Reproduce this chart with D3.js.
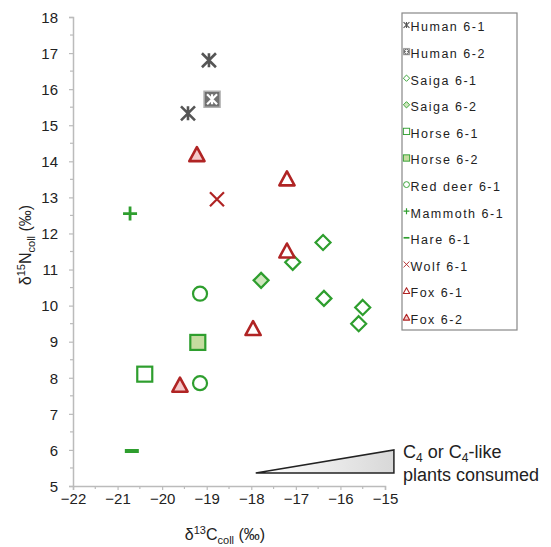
<!DOCTYPE html>
<html>
<head>
<meta charset="utf-8">
<script src="https://cdn.jsdelivr.net/npm/d3@7"></script>
<style>
  body { margin: 0; background: #fff; }
  text { font-family: "Liberation Sans", Arial, sans-serif; }
</style>
</head>
<body>
<svg id="chart" width="551" height="547"></svg>
<script>
// values (d13C, d15N)
let human61 = [[-19.42, 15.33], [-18.95, 16.8]];
let human62 = [[-18.88, 15.72]];
let saiga61 = [[-16.39, 11.75], [-17.07, 11.2], [-16.37, 10.2], [-15.5, 9.95], [-15.59, 9.5]];
let saiga62 = [[-17.78, 10.7]];
let horse61 = [[-20.39, 8.1]];
let horse62 = [[-19.2, 8.98]];
let redDeer61 = [[-19.15, 10.33], [-19.15, 7.85]];
let mammoth61 = [[-20.72, 12.55]];
let hare61 = [[-20.68, 5.97]];
let wolf61 = [[-18.77, 12.95]];
let fox61 = [[-17.2, 13.5], [-17.2, 11.5], [-17.96, 9.35]];
let fox62 = [[-19.22, 14.17], [-19.6, 7.78]];

let legendNames = ["Human 6-1", "Human 6-2", "Saiga 6-1", "Saiga 6-2", "Horse 6-1", "Horse 6-2",
                   "Red deer 6-1", "Mammoth 6-1", "Hare 6-1", "Wolf 6-1", "Fox 6-1", "Fox 6-2"];
let xTicks = [-22, -21, -20, -19, -18, -17, -16, -15];
let yTicks = [5, 6, 7, 8, 9, 10, 11, 12, 13, 14, 15, 16, 17, 18];

// C4 wedge corners: [d13C, d15N]
let wedge = [[-17.9, 5.36], [-14.8, 6.0], [-14.8, 5.36]];

let green = "#2e9e2e", red = "#b02424", gray = "#555";

let series = [
  {name: legendNames[0], data: human61, type: "asterisk"},
  {name: legendNames[1], data: human62, type: "boxstar"},
  {name: legendNames[2], data: saiga61, type: "diamond", fill: "#fff"},
  {name: legendNames[3], data: saiga62, type: "diamond", fill: "#cfe6bd"},
  {name: legendNames[4], data: horse61, type: "square", fill: "#fff"},
  {name: legendNames[5], data: horse62, type: "square", fill: "#c5dca0"},
  {name: legendNames[6], data: redDeer61, type: "circle"},
  {name: legendNames[7], data: mammoth61, type: "plus"},
  {name: legendNames[8], data: hare61, type: "dash"},
  {name: legendNames[9], data: wolf61, type: "cross"},
  {name: legendNames[10], data: fox61, type: "triangle", fill: "#fff"},
  {name: legendNames[11], data: fox62, type: "triangle", fill: "#f4c9c9"}
];

let svg = d3.select("#chart");

let x = d3.scaleLinear().domain([-22, -15]).range([73, 385]);
let y = d3.scaleLinear().domain([5, 18]).range([486, 17]);

// axes
let xAxis = svg.append("g").attr("transform", "translate(0,486)")
  .call(d3.axisBottom(x).tickValues(xTicks).tickFormat(d3.format("d")).tickSize(4).tickPadding(3));
let yAxis = svg.append("g").attr("transform", "translate(73,0)")
  .call(d3.axisLeft(y).tickValues(yTicks).tickFormat(d3.format("d")).tickSize(4).tickPadding(11));

[xAxis, yAxis].forEach(function(g){
  g.select(".domain").attr("stroke", "#bbb").attr("stroke-width", 1.5);
  g.selectAll(".tick line").attr("stroke", "#bbb").attr("stroke-width", 1.2);
  g.selectAll(".tick text").attr("fill", "#222").style("font-size", "15px");
});
yAxis.selectAll(".tick text").attr("dy", "0.35em");

// half-unit minor ticks
let xMinor = d3.range(-21.5, -15, 1);
let yMinor = d3.range(5.5, 18, 1);
svg.append("g").selectAll("line").data(xMinor).enter().append("line")
  .attr("x1", d => x(d)).attr("x2", d => x(d)).attr("y1", 486).attr("y2", 489)
  .attr("stroke", "#bbb").attr("stroke-width", 1.2);
svg.append("g").selectAll("line").data(yMinor).enter().append("line")
  .attr("y1", d => y(d)).attr("y2", d => y(d)).attr("x1", 70).attr("x2", 73)
  .attr("stroke", "#bbb").attr("stroke-width", 1.2);

// axis titles
let xt = svg.append("text").attr("x", 225).attr("y", 540).attr("text-anchor", "middle")
  .style("font-size", "16px").attr("fill", "#222");
xt.append("tspan").text("δ");
xt.append("tspan").attr("dy", -6).style("font-size", "11px").text("13");
xt.append("tspan").attr("dy", 6).text("C");
xt.append("tspan").attr("dy", 4).style("font-size", "11px").text("coll");
xt.append("tspan").attr("dy", -4).text(" (‰)");

let yt = svg.append("text").attr("transform", "translate(31,245) rotate(-90)").attr("text-anchor", "middle")
  .style("font-size", "16px").attr("fill", "#222");
yt.append("tspan").text("δ");
yt.append("tspan").attr("dy", -6).style("font-size", "11px").text("15");
yt.append("tspan").attr("dy", 6).text("N");
yt.append("tspan").attr("dy", 4).style("font-size", "11px").text("coll");
yt.append("tspan").attr("dy", -4).text(" (‰)");

// marker drawing
function drawMarker(g, s, cx, cy, k) {
  let m = g.append("g").attr("transform", "translate(" + cx + "," + cy + ")");
  let r = 7 * k;
  if (s.type == "asterisk") {
    m.append("path").attr("d", "M" + (-r) + "," + (-r) + "L" + r + "," + r + "M" + (-r) + "," + r + "L" + r + "," + (-r) +
        "M0," + (-r) + "L0," + r)
      .attr("stroke", gray).attr("stroke-width", 2.6 * k).attr("fill", "none");
  } else if (s.type == "boxstar") {
    let b = 8 * k, a = 5 * k;
    m.append("rect").attr("x", -b).attr("y", -b).attr("width", 2 * b).attr("height", 2 * b)
      .attr("fill", "#707070").attr("stroke", "#b0b0b0").attr("stroke-width", 1.5 * k);
    m.append("path").attr("d", "M" + (-a) + "," + (-a) + "L" + a + "," + a + "M" + (-a) + "," + a + "L" + a + "," + (-a) +
        "M0," + (-a) + "L0," + a)
      .attr("stroke", "#fff").attr("stroke-width", 2.2 * k).attr("fill", "none");
  } else if (s.type == "diamond") {
    let d = 7.5 * k;
    m.append("path").attr("d", "M0," + (-d) + "L" + d + ",0L0," + d + "L" + (-d) + ",0Z")
      .attr("fill", s.fill).attr("stroke", green).attr("stroke-width", 2.2 * k);
  } else if (s.type == "square") {
    let q = 7.5 * k;
    m.append("rect").attr("x", -q).attr("y", -q).attr("width", 2 * q).attr("height", 2 * q)
      .attr("fill", s.fill).attr("stroke", green).attr("stroke-width", 2.2 * k);
  } else if (s.type == "circle") {
    m.append("circle").attr("r", 7 * k).attr("fill", "#fff").attr("stroke", green).attr("stroke-width", 2.2 * k);
  } else if (s.type == "plus") {
    m.append("path").attr("d", "M" + (-r) + ",0L" + r + ",0M0," + (-r) + "L0," + r)
      .attr("stroke", green).attr("stroke-width", 2.8 * k);
  } else if (s.type == "dash") {
    m.append("path").attr("d", "M" + (-r) + ",0L" + r + ",0")
      .attr("stroke", green).attr("stroke-width", 4 * k);
  } else if (s.type == "cross") {
    m.append("path").attr("d", "M" + (-r) + "," + (-r) + "L" + r + "," + r + "M" + (-r) + "," + r + "L" + r + "," + (-r))
      .attr("stroke", red).attr("stroke-width", 2.2 * k);
  } else if (s.type == "triangle") {
    let t = 8 * k;
    m.append("path").attr("d", "M0," + (-t) + "L" + (t * 0.95) + "," + (t * 0.75) + "L" + (-t * 0.95) + "," + (t * 0.75) + "Z")
      .attr("fill", s.fill).attr("stroke", red).attr("stroke-width", 2.6 * k).attr("stroke-linejoin", "round");
  }
}

// points
let pts = svg.append("g");
series.forEach(function(s){
  s.data.forEach(function(d){ drawMarker(pts, s, x(d[0]), y(d[1]), 1); });
});

// C4 wedge
let grad = svg.append("defs").append("linearGradient").attr("id", "wedgeGrad")
  .attr("x1", "0%").attr("x2", "100%").attr("y1", "0%").attr("y2", "0%");
grad.append("stop").attr("offset", "0%").attr("stop-color", "#ffffff");
grad.append("stop").attr("offset", "100%").attr("stop-color", "#d8d8d8");
svg.append("path")
  .attr("d", d3.line().x(d => x(d[0])).y(d => y(d[1]))(wedge) + "Z")
  .attr("fill", "url(#wedgeGrad)").attr("stroke", "#222").attr("stroke-width", 1.5);
let c4a = svg.append("text").attr("x", 403).attr("y", 458).style("font-size", "18px").attr("fill", "#222");
c4a.append("tspan").text("C");
c4a.append("tspan").attr("dy", 4).style("font-size", "12px").text("4");
c4a.append("tspan").attr("dy", -4).text(" or C");
c4a.append("tspan").attr("dy", 4).style("font-size", "12px").text("4");
c4a.append("tspan").attr("dy", -4).text("-like");
svg.append("text").attr("x", 403).attr("y", 481).style("font-size", "18px").attr("fill", "#222")
  .text("plants consumed");

// legend
let lg = svg.append("g");
lg.append("rect").attr("x", 402).attr("y", 13).attr("width", 115).attr("height", 317)
  .attr("fill", "#fff").attr("stroke", "#888").attr("stroke-width", 1.2);
series.forEach(function(s, i){
  let ly = 27 + i * 26.6;
  drawMarker(lg, s, 406.5, ly - 2, 0.42);
  lg.append("text").attr("x", 410.5).attr("y", ly).attr("dy", "0.35em")
    .style("font-size", "12.5px").style("letter-spacing", "1.5px").attr("fill", "#222").text(s.name);
});
</script>
</body>
</html>
